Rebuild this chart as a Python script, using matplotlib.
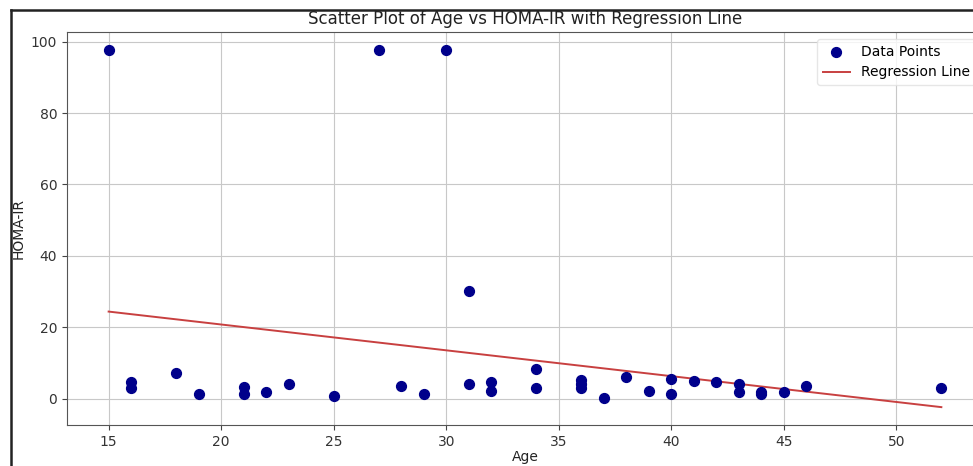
import numpy as np
import matplotlib
matplotlib.use("Agg")
import matplotlib.pyplot as plt
from matplotlib.lines import Line2D

# data
age = [15, 16, 16, 18, 19, 21, 21, 22, 23, 25, 27, 28, 29, 30,
       31, 31, 32, 32, 34, 34, 36, 36, 36, 37, 38, 39, 40, 40,
       41, 42, 43, 43, 44, 44, 45, 46, 52]
homa_ir = [97.7, 4.8, 2.9, 7.2, 1.2, 3.3, 1.2, 1.9, 4.0, 0.9, 97.7, 3.6, 1.2, 97.7,
           30.1, 4.2, 4.7, 2.1, 8.3, 3.1, 5.2, 4.0, 2.9, 0.3, 6.1, 2.2, 5.4, 1.2,
           5.0, 4.7, 4.0, 2.0, 2.0, 1.2, 1.9, 3.6, 3.0]

x = np.array(age, dtype=float)
y = np.array(homa_ir)

# simple linear regression
slope, intercept = np.polyfit(x, y, 1)
x_line = np.array([x.min(), x.max()])
y_line = slope * x_line + intercept

W, H = 973, 466
fig = plt.figure(figsize=(W / 100, H / 100), dpi=100)
ax = fig.add_axes([67 / W, 1 - 425 / H, (983 - 67) / W, (425 - 32) / H])

ax.scatter(x, y, color="darkblue", s=50, label="Data Points", zorder=3)
ax.plot(x_line, y_line, color="#c84040", linewidth=1.4, label="Regression Line", zorder=2)

ax.set_title("Scatter Plot of Age vs HOMA-IR with Regression Line", color="#222222")
ax.set_xlabel("Age", labelpad=1, color="#222222")
ax.set_ylabel("HOMA-IR", color="#222222")
ax.tick_params(colors="#444444", labelcolor="#333333")
for sp in ax.spines.values():
    sp.set_color("#555555")
ax.grid(True, color="#c8c8c8")
ax.legend(loc="upper right", edgecolor="#e0e0e0")

# screenshot frame
fig.add_artist(Line2D([11 / W, 11 / W], [0, 1 - 10 / H], color="#222222", linewidth=1.8))
fig.add_artist(Line2D([11 / W, 1], [1 - 10 / H, 1 - 10 / H], color="#222222", linewidth=1.8))

fig.savefig("out.png", dpi=100)
